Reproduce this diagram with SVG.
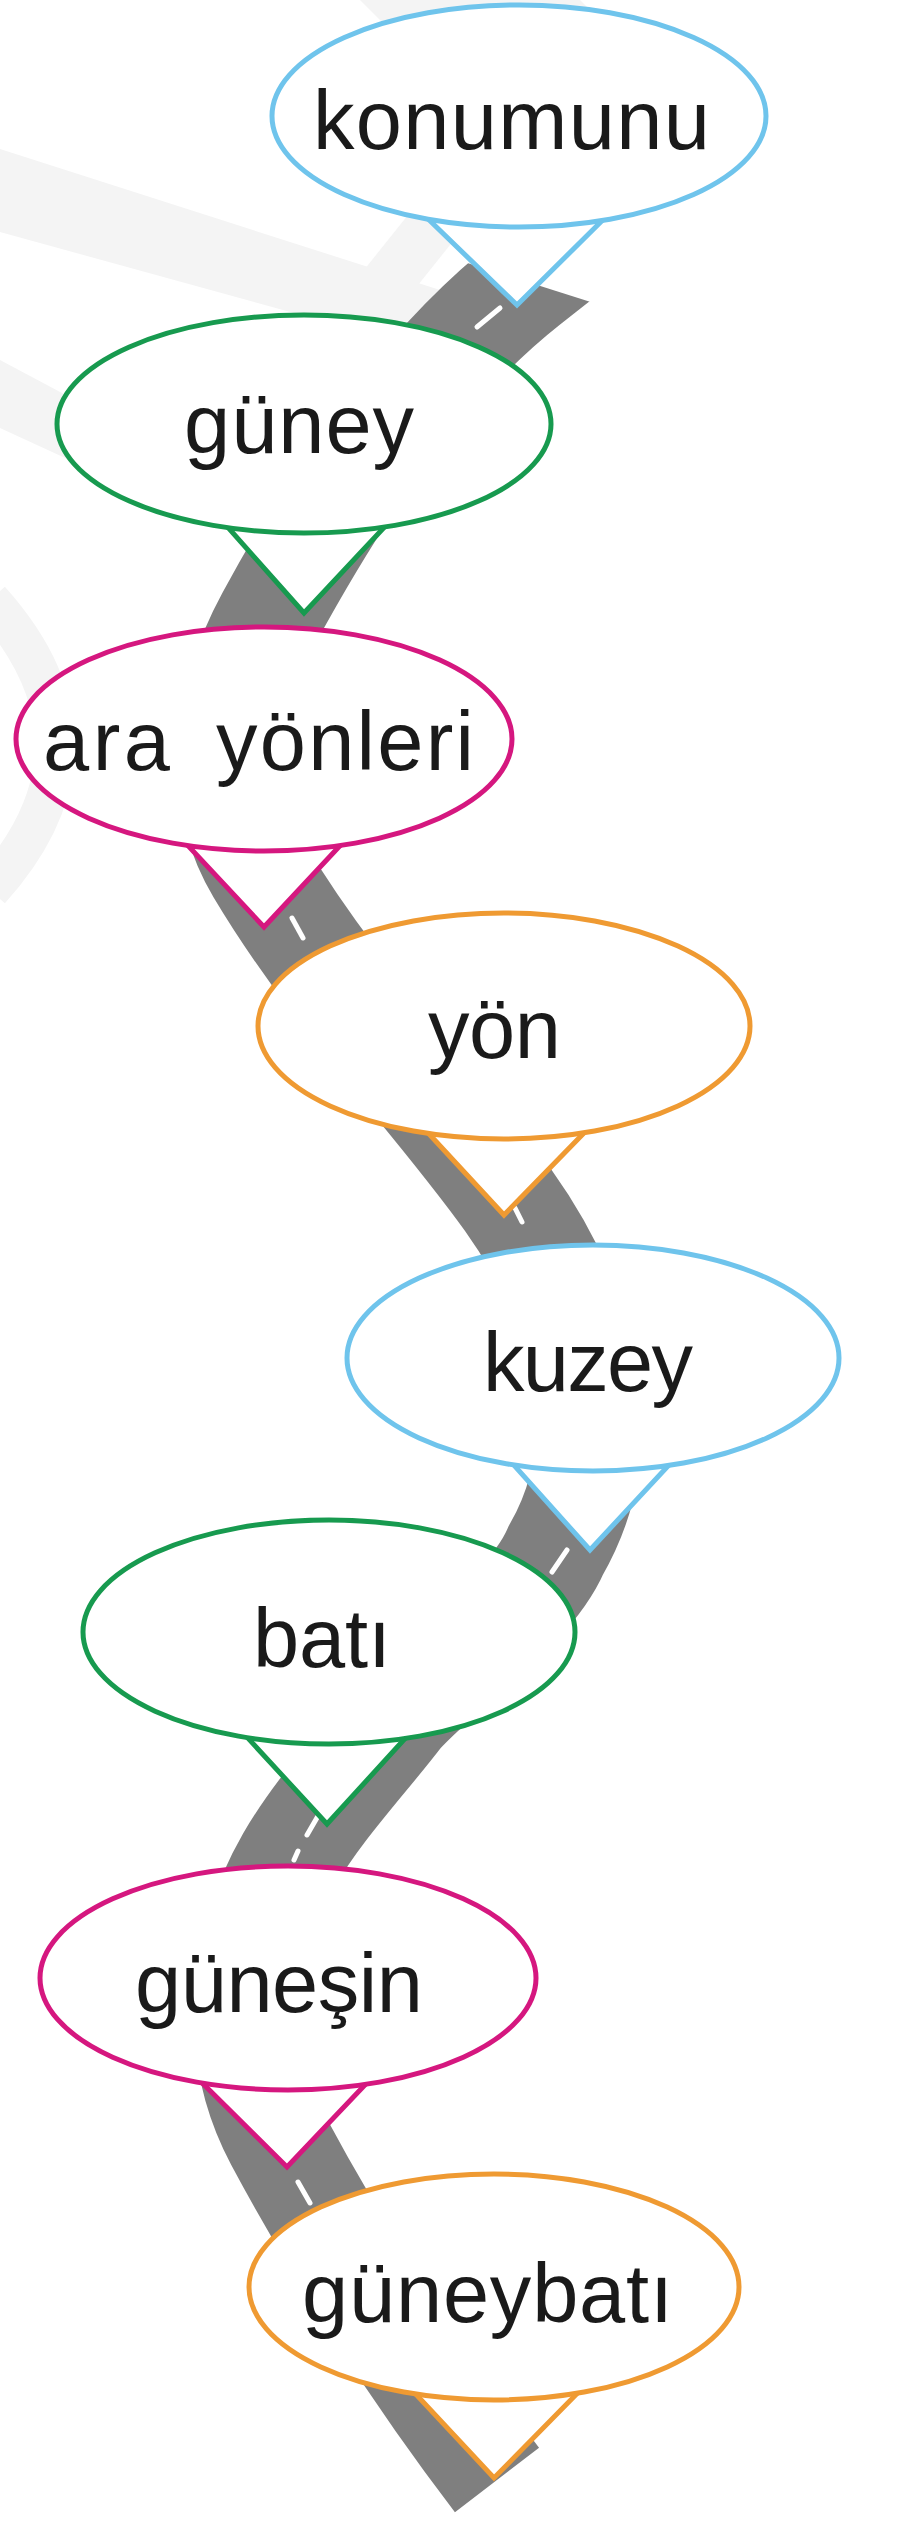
<svg xmlns="http://www.w3.org/2000/svg" width="897" height="2525" viewBox="0 0 897 2525">
<style>
.wm{fill:#f4f4f4;stroke:none}
.road{fill:none;stroke:#7f7f7f;stroke-width:106;stroke-linecap:butt}
.dash{stroke:#ffffff;stroke-width:5;stroke-linecap:round}
.b{fill:#ffffff;stroke-width:5;stroke-linejoin:miter}
.blue{stroke:#6fc4ec}
.green{stroke:#179a4f}
.pink{stroke:#d5177f}
.orange{stroke:#ef9a32}
.t{font-family:"Liberation Sans",Arial,sans-serif;font-size:83px;fill:#1a1a1a}
</style>
<defs>
<clipPath id="roadclip"><polygon points="0,115 897,399 897,2525 0,2525"/></clipPath>
</defs>
<rect width="897" height="2525" fill="#ffffff"/>
<g id="watermark">
<polygon class="wm" points="360,0 580,0 700,120 480,120"/>
<polygon class="wm" points="0,149 440,290 410,345 0,232"/>
<polygon class="wm" points="300,350 440,175 490,195 350,370"/>
<polygon class="wm" points="0,360 214,474 200,520 0,428"/>
<path d="M -10,600 Q 120,745 -10,890" fill="none" stroke="#f4f4f4" stroke-width="40"/>
</g>
<g id="connectors">
<path class="road" clip-path="url(#roadclip)" d="M 574,246 L 527,283 C 417,370 336,495 269,618 C 226,697 213,793 259,870 C 336,999 433,1095 508,1200 C 583,1305 621,1437 556,1550 C 530,1610 450,1660 400,1714 C 364,1761 319,1808 289,1860 C 239,1947 231,2052 278,2140 C 339,2254 418,2377 497,2480"/>
<line class="dash" x1="477" y1="327" x2="500" y2="308"/>
<line class="dash" x1="292" y1="918" x2="303" y2="938"/>
<line class="dash" x1="515" y1="1208" x2="522" y2="1222"/>
<line class="dash" x1="552" y1="1572" x2="567" y2="1550"/>
<line class="dash" x1="318" y1="1816" x2="307" y2="1835"/>
<line class="dash" x1="298" y1="1851" x2="294" y2="1860"/>
<line class="dash" x1="298" y1="2182" x2="310" y2="2203"/>
</g>
<g id="node-konumunu">
<polygon class="b blue" points="394,186 632,191 517,305"/>
<ellipse class="b blue" cx="519" cy="116" rx="247" ry="111"/>
<text class="t" x="313" y="149" textLength="397">konumunu</text>
</g>
<g id="node-guney">
<polygon class="b green" points="193,488 421,488 304,613"/>
<ellipse class="b green" cx="304" cy="424" rx="247" ry="109"/>
<text class="t" x="184" y="453" textLength="230">güney</text>
</g>
<g id="node-ara-yonleri">
<polygon class="b pink" points="150,805 378,805 264,927"/>
<ellipse class="b pink" cx="264" cy="739" rx="248" ry="112"/>
<text class="t" y="770"><tspan x="43" textLength="127">ara</tspan> <tspan x="216" textLength="258">yönleri</tspan></text>
</g>
<g id="node-yon">
<polygon class="b orange" points="393,1095 621,1095 504,1215"/>
<ellipse class="b orange" cx="504" cy="1026" rx="246" ry="113"/>
<text class="t" x="428" y="1058" textLength="133">yön</text>
</g>
<g id="node-kuzey">
<polygon class="b blue" points="477,1424 707,1424 590,1550"/>
<ellipse class="b blue" cx="593" cy="1358" rx="246" ry="113"/>
<text class="t" x="483" y="1391" textLength="210">kuzey</text>
</g>
<g id="node-bati">
<polygon class="b green" points="211,1698 442,1698 327,1824"/>
<ellipse class="b green" cx="329" cy="1632" rx="246" ry="112"/>
<text class="t" x="253" y="1667" textLength="138">batı</text>
</g>
<g id="node-gunesin">
<polygon class="b pink" points="167,2048 400,2048 287,2167"/>
<ellipse class="b pink" cx="288" cy="1978" rx="248" ry="112"/>
<text class="t" x="135" y="2012" textLength="288">güneşin</text>
</g>
<g id="node-guneybati">
<polygon class="b orange" points="383,2359 611,2359 494,2478"/>
<ellipse class="b orange" cx="494" cy="2287" rx="245" ry="113"/>
<text class="t" x="302" y="2322" textLength="371">güneybatı</text>
</g>
</svg>
